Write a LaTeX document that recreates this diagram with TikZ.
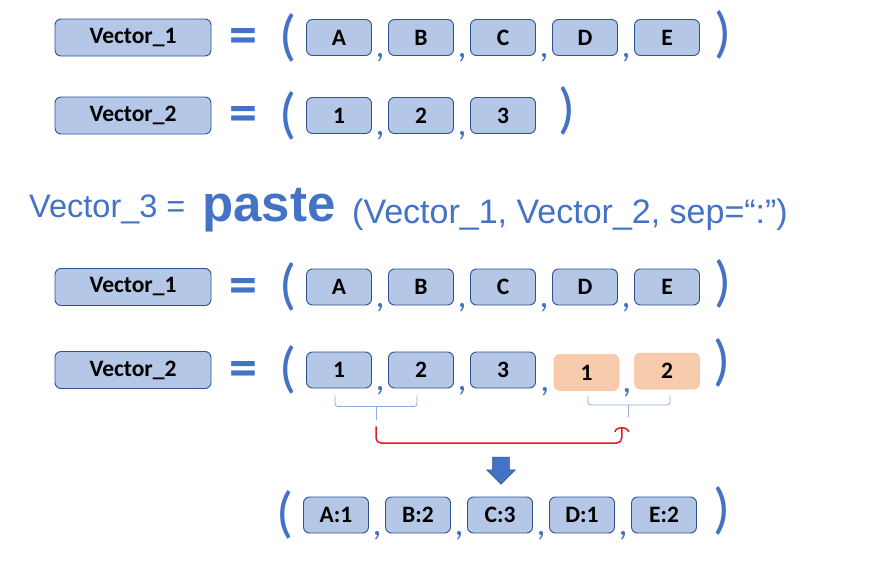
\documentclass[tikz,border=0pt]{standalone}
\usepackage{fontspec}
\setmainfont{Carlito}
\newfontfamily\arialfont{Liberation Sans}
\usepackage{xcolor}
\usepackage{tikz}
\usetikzlibrary{
  positioning,
  arrows.meta,
  shapes.arrows,
  calc
}

\definecolor{cellfill}{RGB}{180,199,231}
\definecolor{celldraw}{RGB}{47,82,143}
\definecolor{pastefill}{RGB}{248,203,173}
\definecolor{pastedraw}{RGB}{240,188,156}
\definecolor{textblue}{RGB}{68,114,196}
\definecolor{bracegray}{RGB}{143,170,220}
\definecolor{linkred}{RGB}{222,28,36}

\begin{document}
\begin{tikzpicture}[
  x=1pt, y=-1pt,
  vecbox/.style={
    rectangle,
    rounded corners=6pt,
    draw=celldraw,
    fill=cellfill,
    line width=0.9pt,
    minimum width=156pt,
    minimum height=37pt,
    inner sep=0pt,
    font=\bfseries\fontsize{23.5}{27}\selectfont
  },
  cell/.style={
    vecbox,
    minimum width=65pt,
    minimum height=36pt
  },
  pastecell/.style={
    cell,
    draw=pastedraw,
    fill=pastefill,
    line width=0.5pt
  },
  eqsign/.style={
    text=textblue,
    inner sep=0pt,
    font=\bfseries\fontsize{56}{60}\selectfont
  },
  paren/.style={
    text=textblue,
    inner sep=0pt,
    font=\fontsize{56}{60}\selectfont
  },
  sepmark/.style={
    text=textblue,
    inner sep=0pt,
    anchor=base,
    font=\fontsize{36}{40}\selectfont
  },
  title/.style={
    text=textblue,
    inner sep=0pt,
    anchor=base west,
    font=\arialfont\fontsize{32.5}{36}\selectfont
  },
  brace line/.style={
    draw=bracegray,
    line width=0.8pt,
    rounded corners=3pt
  },
  link/.style={
    draw=linkred,
    line width=1.5pt,
    rounded corners=5pt,
    -{Arc Barb[width=15pt,length=5pt]}
  },
  downarrow/.style={
    single arrow,
    rotate=-90,
    fill=textblue,
    draw=celldraw,
    line width=0.6pt,
    minimum height=27pt,
    minimum width=28pt,
    single arrow head extend=6pt,
    inner sep=8pt
  }
]
\useasboundingbox (0,0) rectangle (876,565);

% Vector_1 = (A, B, C, D, E)
\node[vecbox] (v1) at (133,37.5) {Vector\_1};
\node[eqsign] (eq1) at (243.5,41) {=};
\node[paren] (lp1) at (287.5,37.5) {(};
\foreach \lbl [count=\i] in {A,B,C,D,E}
  \node[cell] (a\i) at (257+82*\i,37.5) {\lbl};
\node[paren] (rp1) at (723,35) {)};
\foreach \i/\j in {1/2,2/3,3/4,4/5}
  \node[sepmark] at ($(a\i.south east)!0.5!(a\j.south west)+(0,2)$) {,};

% Vector_2 = (1, 2, 3)
\node[vecbox] (v2) at (133,115.5) {Vector\_2};
\node[eqsign] (eq2) at (243.5,119) {=};
\node[paren] (lp2) at (287.5,115.5) {(};
\foreach \lbl [count=\i] in {1,2,3}
  \node[cell] (b\i) at (257+82*\i,115.5) {\lbl};
\node[paren] (rp2) at (567,111) {)};
\foreach \i/\j in {1/2,2/3}
  \node[sepmark] at ($(b\i.south east)!0.5!(b\j.south west)+(0,2)$) {,};

% paste call
\node[title] (t1) at (29,217) {Vector\_3 =};
\node[title, font=\arialfont\bfseries\fontsize{51}{55}\selectfont] (t2) at (202,221) {paste};
\node[title, font=\arialfont\fontsize{34}{38}\selectfont] (t3) at (352,223) {(Vector\_1, Vector\_2, sep=“:”)};

% Vector_1 again
\node[vecbox] (v3) at (133,287) {Vector\_1};
\node[eqsign] (eq3) at (243.5,290.5) {=};
\node[paren] (lp3) at (287.5,287) {(};
\foreach \lbl [count=\i] in {A,B,C,D,E}
  \node[cell] (c\i) at (257+82*\i,287) {\lbl};
\node[paren] (rp3) at (723,284) {)};
\foreach \i/\j in {1/2,2/3,3/4,4/5}
  \node[sepmark] at ($(c\i.south east)!0.5!(c\j.south west)+(0,2)$) {,};

% Vector_2 recycled to length 5
\node[vecbox] (v4) at (133,370) {Vector\_2};
\node[eqsign] (eq4) at (243.5,373.5) {=};
\node[paren] (lp4) at (287.5,370) {(};
\foreach \lbl [count=\i] in {1,2,3}
  \node[cell] (d\i) at (257+82*\i,370) {\lbl};
\node[pastecell] (d4) at (586.5,372.5) {1};
\node[pastecell] (d5) at (667,371) {2};
\node[paren] (rp4) at (722,363) {)};
\foreach \i/\j in {1/2,2/3,3/4,4/5}
  \node[sepmark] at ($(d\i.south east)!0.5!(d\j.south west)+(0,2)$) {,};

% Braces and recycling link
\coordinate (lmid) at ($(d1.south)!0.5!(d2.south)+(-4,0)$);
\coordinate (rmid) at ($(d4.south)!0.5!(d5.south)+(2,0)$);
\draw[brace line] ($(d1.south)+(-4,7)$) |- ($(lmid)+(0,18)$) -| ($(d2.south)+(-4,7)$);
\draw[brace line] ($(lmid)+(0,18)$) -- ($(lmid)+(0,32)$);
\draw[brace line] ($(d4.south)+(1.5,5)$) |- ($(rmid)+(0,15)$) -| ($(d5.south)+(3,6)$);
\draw[brace line] ($(rmid)+(0,15)$) -- ($(rmid)+(0,27)$);
\draw[link] ($(lmid)+(0,38)$) |- ($(rmid)+(-7,53)$) -- ($(rmid)+(-7,37)$);

\node[downarrow] (down) at (501,466.5) {};

% Vector_3 result
\node[paren] (lp5) at (285,515) {(};
\foreach \lbl [count=\i] in {A:1,B:2,C:3,D:1,E:2}
  \node[cell] (e\i) at (254+82*\i,515) {\lbl};
\node[paren] (rp5) at (722,511) {)};
\foreach \i/\j in {1/2,2/3,3/4,4/5}
  \node[sepmark] at ($(e\i.south east)!0.5!(e\j.south west)+(0,2)$) {,};

\end{tikzpicture}
\end{document}
